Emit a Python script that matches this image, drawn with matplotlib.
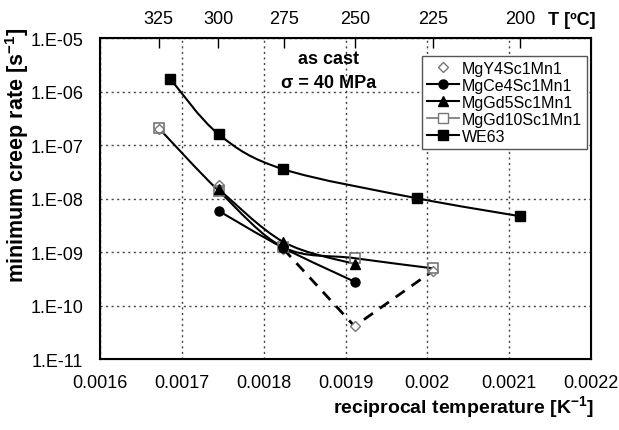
import numpy as np
import matplotlib
matplotlib.use("Agg")
import matplotlib.pyplot as plt
from matplotlib.path import Path
from matplotlib.patches import PathPatch
from matplotlib.lines import Line2D
from matplotlib.ticker import FixedLocator, FuncFormatter, NullLocator

# -------- DATA --------
# x = reciprocal temperature [1/K], y = minimum creep rate [1/s]
we63_x = [0.001686, 0.001745, 0.001824, 0.001987, 0.002113]
we63_y = [1.73e-6, 1.6e-7, 3.55e-8, 1.02e-8, 4.7e-9]

gd10_x = [0.001672, 0.001745, 0.001824, 0.001911, 0.002007]
gd10_y = [2.07e-7, 1.4e-8, 1.23e-9, 7.7e-10, 4.97e-10]

gd5_x = [0.001745, 0.001824, 0.001911]
gd5_y = [1.5e-8, 1.55e-9, 6.0e-10]

ce4_x = [0.001745, 0.001824, 0.001911]
ce4_y = [5.9e-9, 1.2e-9, 2.8e-10]

y4_x = [0.001672, 0.001745, 0.001824, 0.001911, 0.002007]
y4_y = [2.0e-7, 1.8e-8, 1.15e-9, 4.1e-11, 4.5e-10]

x_ticks = [0.0016, 0.0017, 0.0018, 0.0019, 0.0020, 0.0021, 0.0022]
x_tick_labels = ["0.0016", "0.0017", "0.0018", "0.0019", "0.002", "0.0021", "0.0022"]
y_exponents = [-5, -6, -7, -8, -9, -10, -11]
top_temps_c = [325, 300, 275, 250, 225, 200]

# -------- STYLE --------
plt.rcParams["font.family"] = ["Liberation Sans", "DejaVu Sans"]
plt.rcParams["mathtext.fontset"] = "custom"
plt.rcParams["mathtext.rm"] = "Liberation Sans"
plt.rcParams["mathtext.bf"] = "Liberation Sans:bold"

GRAY = "#777777"


def smooth_line(ax, xs, ys, **kw):
    # Excel-like smoothed line: Catmull-Rom -> cubic Bezier in (x, log y)
    px = np.asarray(xs, float)
    py = np.log10(np.asarray(ys, float))
    n = len(px)
    verts = [(px[0], py[0])]
    codes = [Path.MOVETO]
    for i in range(n - 1):
        i0 = max(i - 1, 0)
        i3 = min(i + 2, n - 1)
        c1 = (px[i] + (px[i + 1] - px[i0]) / 6, py[i] + (py[i + 1] - py[i0]) / 6)
        c2 = (px[i + 1] - (px[i3] - px[i]) / 6, py[i + 1] - (py[i3] - py[i]) / 6)
        verts += [c1, c2, (px[i + 1], py[i + 1])]
        codes += [Path.CURVE4] * 3
    verts = [(vx, 10 ** vy) for vx, vy in verts]
    patch = PathPatch(Path(verts, codes), fill=False, transform=ax.transData, **kw)
    ax.add_patch(patch)


fig = plt.figure(figsize=(6.19, 4.31), dpi=100)
ax = fig.add_axes([0.1616, 0.1647, 0.7932, 0.7441])
ax.set_yscale("log")
ax.set_xlim(0.0016, 0.0022)
ax.set_ylim(1e-11, 1e-5)

# lines
lkw = dict(edgecolor="black", linewidth=1.5, zorder=2)
smooth_line(ax, we63_x, we63_y, **lkw)
smooth_line(ax, gd10_x, gd10_y, **lkw)
smooth_line(ax, gd5_x, gd5_y, **lkw)
smooth_line(ax, ce4_x, ce4_y, **lkw)
ax.plot(y4_x[2:], y4_y[2:], color="black", lw=2, ls=(0, (4, 3)), zorder=2)

# markers
ax.plot(y4_x, y4_y, ls="none", marker="D", ms=5.5, mfc="white", mec=GRAY, mew=1, zorder=3)
ax.plot(ce4_x, ce4_y, ls="none", marker="o", ms=6.5, color="black", zorder=4)
ax.plot(gd5_x, gd5_y, ls="none", marker="^", ms=7.5, color="black", zorder=4)
ax.plot(gd10_x, gd10_y, ls="none", marker="s", ms=7.5, mfc="none", mec=GRAY, mew=1.2, zorder=3)
ax.plot(we63_x, we63_y, ls="none", marker="s", ms=7.5, color="black", zorder=4)

# axes formatting
ax.xaxis.set_major_locator(FixedLocator(x_ticks))
ax.set_xticklabels(x_tick_labels)
ax.yaxis.set_major_locator(FixedLocator([10.0 ** e for e in y_exponents]))
ax.yaxis.set_minor_locator(NullLocator())
ax.yaxis.set_major_formatter(FuncFormatter(lambda v, p: "1.E-%02d" % round(-np.log10(v))))
ax.tick_params(axis="both", length=0, labelsize=13)
ax.tick_params(axis="x", pad=11)
ax.tick_params(axis="y", pad=12)
ax.grid(True, which="major", ls=(0, (1.5, 2.5)), color="#444444", lw=1)
for s in ax.spines.values():
    s.set_linewidth(1.5)

# top axis in degrees Celsius
top = ax.twiny()
top.set_xlim(ax.get_xlim())
top.set_xticks([1.0 / (t + 273.15) for t in top_temps_c])
top.set_xticklabels([str(t) for t in top_temps_c])
top.tick_params(axis="x", direction="in", length=7, width=1, labelsize=13, pad=8)
top.text(0.961, 1.059, "T [ºC]", transform=ax.transAxes, ha="center", va="center",
         fontsize=13, fontweight="bold")

# annotation
ax.text(0.466, 0.938, "as cast", transform=ax.transAxes, ha="center", va="center",
        fontsize=13, fontweight="bold")
ax.text(0.466, 0.863, "σ = 40 MPa", transform=ax.transAxes, ha="center", va="center",
        fontsize=13, fontweight="bold")

# legend
handles = [
    Line2D([], [], ls="none", marker="D", ms=5.5, mfc="white", mec=GRAY, mew=1),
    Line2D([], [], color="black", lw=1.5, marker="o", ms=6.5),
    Line2D([], [], color="black", lw=1.5, marker="^", ms=7.5),
    Line2D([], [], color=GRAY, lw=1.2, marker="s", ms=7.5, mfc="white", mec=GRAY),
    Line2D([], [], color="black", lw=1.5, marker="s", ms=7.5),
]
labels = ["MgY4Sc1Mn1", "MgCe4Sc1Mn1", "MgGd5Sc1Mn1", "MgGd10Sc1Mn1", "WE63"]
leg = ax.legend(handles, labels, loc="upper right", bbox_to_anchor=(0.992, 0.944),
                fontsize=11.5, handlelength=2.0, handletextpad=0.2, labelspacing=0.12,
                borderpad=0.3, borderaxespad=0, fancybox=False, framealpha=1,
                edgecolor="#555555")
leg.get_frame().set_linewidth(1)

# axis labels
fig.text(0.028, 0.64, r"minimum creep rate [s$^{\mathbf{-1}}$]", rotation=90,
         ha="center", va="center", fontsize=15.5, fontweight="bold")
fig.text(0.96, 0.053, r"reciprocal temperature [K$^{\mathbf{-1}}$]", ha="right",
         va="center", fontsize=14, fontweight="bold")

fig.savefig("out.png", dpi=100)
